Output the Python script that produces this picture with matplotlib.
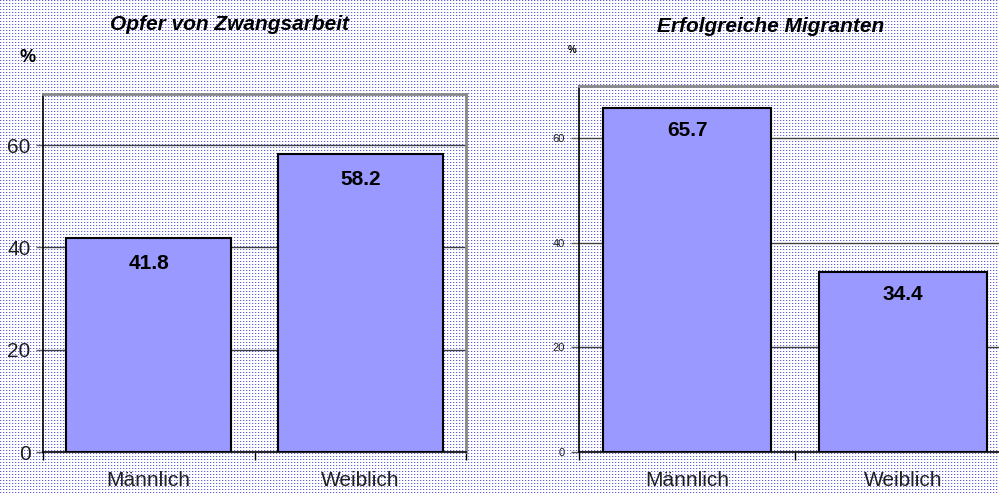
import matplotlib
matplotlib.use('Agg')
import matplotlib.pyplot as plt
import numpy as np

plt.rcParams['font.family'] = ['Liberation Sans', 'DejaVu Sans']

categories = ['Männlich', 'Weiblich']
zwangsarbeit = [41.8, 58.2]
migranten = [65.7, 34.4]
yticks = [0, 20, 40, 60]

W, H = 999, 493
fig = plt.figure(figsize=(W / 100, H / 100), dpi=100)
fig.patch.set_alpha(0)

# dotted background like the original screenshot
bg = np.full((H, W, 3), 255, dtype=np.uint8)
yy, xx = np.mgrid[0:H, 0:W]
dots = (yy % 3 == 0) & (xx % 3 == 0)
half = (yy % 3 == 0) & (xx % 3 == 1)
bg[dots] = (95, 95, 215)
bg[half] = (215, 215, 245)
fig.figimage(bg, xo=0, yo=0, zorder=-1, origin='upper')


def px_axes(left, top, right, bottom):
    return fig.add_axes([left / W, (H - bottom) / H, (right - left) / W, (bottom - top) / H])


def draw_panel(ax, values, tick_size, label_offset):
    ax.set_facecolor('none')
    x = np.arange(len(categories))
    bars = ax.bar(x, values, width=0.78, color='#9999FF', edgecolor='black',
                  linewidth=1.5, zorder=3)
    ax.set_xlim(-0.5, 1.5)
    ax.set_ylim(0, 70)
    ax.set_yticks(yticks)
    ax.set_yticklabels([str(t) for t in yticks], fontsize=tick_size, color='#202020')
    ax.yaxis.grid(True, color='#404040', linewidth=1, zorder=1)
    ax.set_axisbelow(True)
    ax.tick_params(axis='y', direction='out', length=5, width=1, color='#606060', pad=4)
    ax.set_xticks(x)
    ax.set_xticklabels(categories, fontsize=15, color='#202020')
    ax.tick_params(axis='x', which='major', length=0, pad=14)
    ax.set_xticks([-0.5, 0.5, 1.5], minor=True)
    ax.tick_params(axis='x', which='minor', direction='out', length=6, width=1, color='black')
    for side in ['top', 'right']:
        ax.spines[side].set_color('#888888')
        ax.spines[side].set_linewidth(2)
    for side in ['left', 'bottom']:
        ax.spines[side].set_color('black')
        ax.spines[side].set_linewidth(1.2)
    for b, v in zip(bars, values):
        ax.annotate(f'{v:.1f}', (b.get_x() + b.get_width() / 2, v),
                    xytext=(0, -label_offset), textcoords='offset points',
                    ha='center', va='center', fontsize=15, fontweight='bold', zorder=4)


ax1 = px_axes(43, 94, 466, 452)
draw_panel(ax1, zwangsarbeit, 15, 18)
fig.text(229 / W, 1 - 25 / H, 'Opfer von Zwangsarbeit', ha='center', va='center',
         fontsize=15, fontweight='bold', style='italic')
fig.text(28 / W, 1 - 58 / H, '%', ha='center', va='center', fontsize=13, fontweight='bold')

ax2 = px_axes(579, 86, 1011, 452)
draw_panel(ax2, migranten, 8, 16)
ax2.tick_params(axis='y', length=6)
fig.text(771 / W, 1 - 26 / H, 'Erfolgreiche Migranten', ha='center', va='center',
         fontsize=15, fontweight='bold', style='italic')
fig.text(572 / W, 1 - 50 / H, '%', ha='center', va='center', fontsize=7, fontweight='bold')

fig.savefig('out.png', dpi=100)
